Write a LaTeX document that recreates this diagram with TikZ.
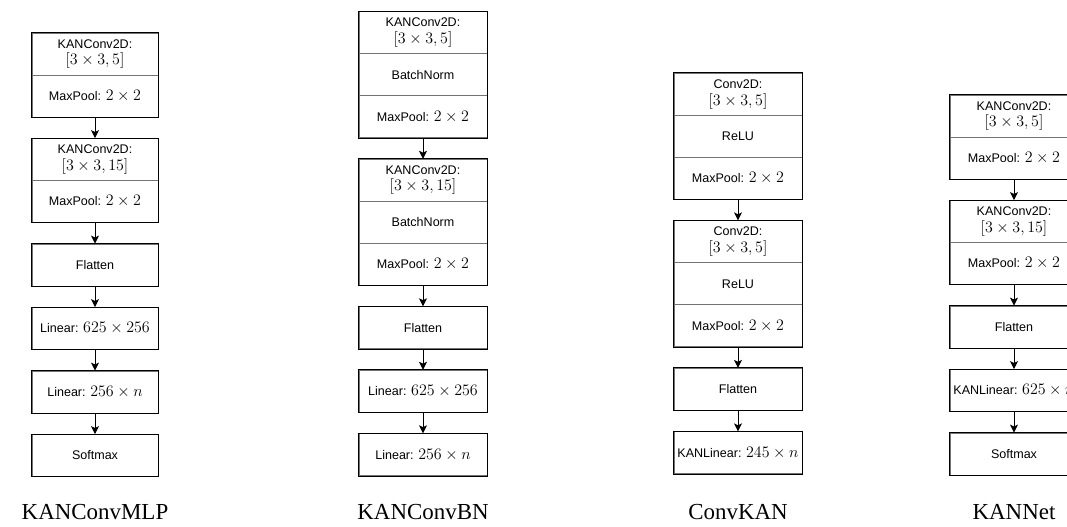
\documentclass[tikz,border=0pt]{standalone}
\usepackage[no-math]{fontspec}
\setmainfont{Liberation Serif}
\setsansfont{Liberation Sans}
\usetikzlibrary{arrows.meta}

% math inside the layer boxes is set a little larger than the label text
\newcommand{\mth}[1]{{\fontsize{11.5}{12.5}\selectfont$#1$}}

\tikzset{
  cell/.style={draw=black!55, line width=0.6pt, fill=white,
    minimum width=96pt, minimum height=31.5pt, inner sep=0pt,
    align=center, font=\sffamily\fontsize{9.4}{12.5}\selectfont},
  narrow/.style={minimum width=94.5pt},
  outline/.style={draw=black, line width=0.75pt},
  flow/.style={draw=black, line width=0.75pt,
    -{Stealth[length=6pt,width=6pt,inset=1.4pt]}},
  caption/.style={anchor=base, font=\fontsize{17.2}{20}\selectfont}
}

\begin{document}
\begin{tikzpicture}[x=0.75pt, y=-0.75pt]
\useasboundingbox[fill=white] (0,0) rectangle (1067,526);
\begin{scope}
\clip (0,0) rectangle (1067,526);

% ---------------- KANConvMLP ----------------
\node[cell,narrow] (a1) at (95,54)    {KANConv2D:\\\mth{[3\times 3, 5]}};
\node[cell,narrow] (a2) at (95,96)    {MaxPool: \mth{2\times 2}};
\node[cell,narrow] (a3) at (95,159.5) {KANConv2D:\\\mth{[3\times 3, 15]}};
\node[cell,narrow] (a4) at (95,201.5) {MaxPool: \mth{2\times 2}};
\node[cell,narrow] (a5) at (95,265)   {Flatten};
\node[cell,narrow] (a6) at (95,328.5) {Linear: \mth{625\times 256}};
\node[cell,narrow] (a7) at (95,392)   {Linear: \mth{256\times n}};
\node[cell,narrow] (a8) at (95,455.5) {Softmax};
\draw[outline] (a1.north west) rectangle (a2.south east);
\draw[outline] (a3.north west) rectangle (a4.south east);
\foreach \n in {a5,a6,a7,a8} \draw[outline] (\n.north west) rectangle (\n.south east);
\draw[flow] (a2) -- (a3);
\draw[flow] (a4) -- (a5);
\draw[flow] (a5) -- (a6);
\draw[flow] (a6) -- (a7);
\draw[flow] (a7) -- (a8);
\node[caption] (l1) at (95,519) {KANConvMLP};

% ---------------- KANConvBN ----------------
\node[cell] (b1) at (423,32.7)  {KANConv2D:\\\mth{[3\times 3, 5]}};
\node[cell] (b2) at (423,74.7)  {BatchNorm};
\node[cell] (b3) at (423,116.7) {MaxPool: \mth{2\times 2}};
\node[cell] (b4) at (423,180.2) {KANConv2D:\\\mth{[3\times 3, 15]}};
\node[cell] (b5) at (423,222.2) {BatchNorm};
\node[cell] (b6) at (423,264.2) {MaxPool: \mth{2\times 2}};
\node[cell] (b7) at (423,327.7) {Flatten};
\node[cell] (b8) at (423,391.2) {Linear: \mth{625\times 256}};
\node[cell] (b9) at (423,454.7) {Linear: \mth{256\times n}};
\draw[outline] (b1.north west) rectangle (b3.south east);
\draw[outline] (b4.north west) rectangle (b6.south east);
\foreach \n in {b7,b8,b9} \draw[outline] (\n.north west) rectangle (\n.south east);
\draw[flow] (b3) -- (b4);
\draw[flow] (b6) -- (b7);
\draw[flow] (b7) -- (b8);
\draw[flow] (b8) -- (b9);
\node[caption] (l2) at (423,519) {KANConvBN};

% ---------------- ConvKAN ----------------
\node[cell] (c1) at (738,94.3)  {Conv2D:\\\mth{[3\times 3, 5]}};
\node[cell] (c2) at (738,136.3) {ReLU};
\node[cell] (c3) at (738,178.3) {MaxPool: \mth{2\times 2}};
\node[cell] (c4) at (738,241.8) {Conv2D:\\\mth{[3\times 3, 5]}};
\node[cell] (c5) at (738,283.8) {ReLU};
\node[cell] (c6) at (738,325.8) {MaxPool: \mth{2\times 2}};
\node[cell] (c7) at (738,389.3) {Flatten};
\node[cell] (c8) at (738,452.8) {KANLinear: \mth{245\times n}};
\draw[outline] (c1.north west) rectangle (c3.south east);
\draw[outline] (c4.north west) rectangle (c6.south east);
\foreach \n in {c7,c8} \draw[outline] (\n.north west) rectangle (\n.south east);
\draw[flow] (c3) -- (c4);
\draw[flow] (c6) -- (c7);
\draw[flow] (c7) -- (c8);
\node[caption] (l3) at (738,519) {ConvKAN};

% ---------------- KANNet ----------------
\node[cell] (d1) at (1014,116)   {KANConv2D:\\\mth{[3\times 3, 5]}};
\node[cell] (d2) at (1014,158)   {MaxPool: \mth{2\times 2}};
\node[cell] (d3) at (1014,221.5) {KANConv2D:\\\mth{[3\times 3, 15]}};
\node[cell] (d4) at (1014,263.5) {MaxPool: \mth{2\times 2}};
\node[cell] (d5) at (1014,327)   {Flatten};
\node[cell] (d6) at (1014,390.5) {KANLinear: \mth{625\times n}};
\node[cell] (d7) at (1014,454)   {Softmax};
\draw[outline] (d1.north west) rectangle (d2.south east);
\draw[outline] (d3.north west) rectangle (d4.south east);
\foreach \n in {d5,d6,d7} \draw[outline] (\n.north west) rectangle (\n.south east);
\draw[flow] (d2) -- (d3);
\draw[flow] (d4) -- (d5);
\draw[flow] (d5) -- (d6);
\draw[flow] (d6) -- (d7);
\node[caption] (l4) at (1014,519) {KANNet};
\end{scope}
\end{tikzpicture}
\end{document}
